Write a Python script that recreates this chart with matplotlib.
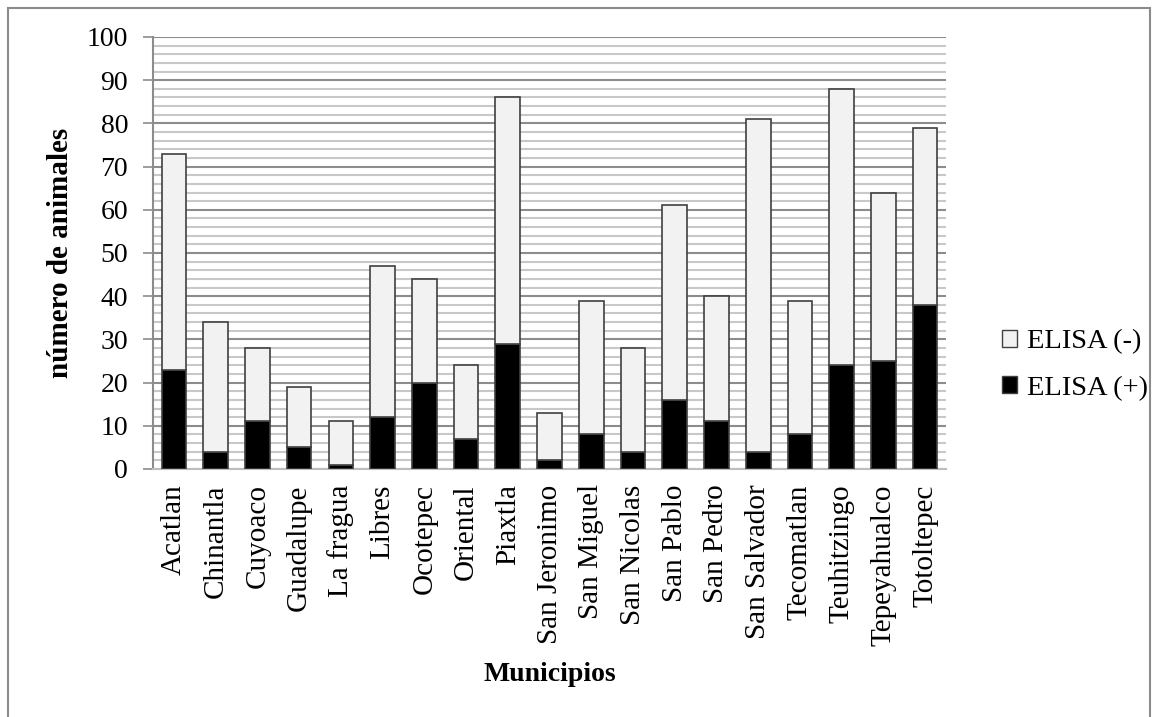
import numpy as np
import matplotlib.pyplot as plt
from matplotlib.patches import Rectangle, Patch

municipios = ["Acatlan", "Chinantla", "Cuyoaco", "Guadalupe", "La fragua", "Libres",
              "Ocotepec", "Oriental", "Piaxtla", "San Jeronimo", "San Miguel", "San Nicolas",
              "San Pablo", "San Pedro", "San Salvador", "Tecomatlan", "Teuhitzingo",
              "Tepeyahualco", "Totoltepec"]
positivos = [23, 4, 11, 5, 1, 12, 20, 7, 29, 2, 8, 4, 16, 11, 4, 8, 24, 25, 38]
negativos = [50, 30, 17, 14, 10, 35, 24, 17, 57, 11, 31, 24, 45, 29, 77, 31, 64, 39, 41]

plt.rcParams["font.family"] = ["Liberation Serif", "DejaVu Serif"]

fig = plt.figure(figsize=(11.53, 7.17), dpi=100)
ax = fig.add_axes([0.1327, 0.3459, 0.6878, 0.6025])

x = np.arange(len(municipios))
w = 0.59
ax.bar(x, positivos, w, color="black", edgecolor="#404040", linewidth=1.2, zorder=3)
ax.bar(x, negativos, w, bottom=positivos, color="#f2f2f2", edgecolor="#404040",
       linewidth=1.2, zorder=3)

ax.set_ylim(0, 100)
ax.set_xlim(-0.5, len(municipios) - 0.5)
ax.set_yticks(range(0, 101, 10))
ax.set_yticks(range(0, 101, 2), minor=True)
ax.grid(axis="y", which="minor", color="#c8c8c8", linewidth=1.5, zorder=0)
ax.grid(axis="y", which="major", color="#8c8c8c", linewidth=1.5, zorder=1)
ax.tick_params(axis="y", which="major", length=7, width=1.2, color="#8c8c8c",
               labelsize=20, pad=11)
ax.tick_params(axis="y", which="minor", length=0)
ax.tick_params(axis="x", length=0, labelsize=21, pad=11)
ax.set_xticks(x)
ax.set_xticklabels(municipios, rotation=90)

for s in ["top", "right"]:
    ax.spines[s].set_visible(False)
ax.spines["left"].set_color("#8c8c8c")
ax.spines["left"].set_linewidth(1.5)
ax.spines["bottom"].set_color("#bdbdbd")
ax.spines["bottom"].set_linewidth(1.5)

ax.set_ylabel("número de animales", fontsize=21, fontweight="bold", labelpad=9)
ax.set_xlabel("Municipios", fontsize=20, fontweight="bold", labelpad=12)

handles = [Patch(facecolor="#f2f2f2", edgecolor="#404040", label="ELISA (-)"),
           Patch(facecolor="black", edgecolor="#404040", label="ELISA (+)")]
fig.legend(handles=handles, loc="center left", bbox_to_anchor=(0.857, 0.491),
           frameon=False, fontsize=20.5, handlelength=0.53, handleheight=0.53,
           handletextpad=0.32, labelspacing=0.75, borderpad=0)

fig.patches.append(Rectangle((0.007, -0.01), 0.99, 0.999, transform=fig.transFigure,
                             fill=False, edgecolor="#8c8c8c", linewidth=1.5))

fig.savefig("out.png", dpi=100)
